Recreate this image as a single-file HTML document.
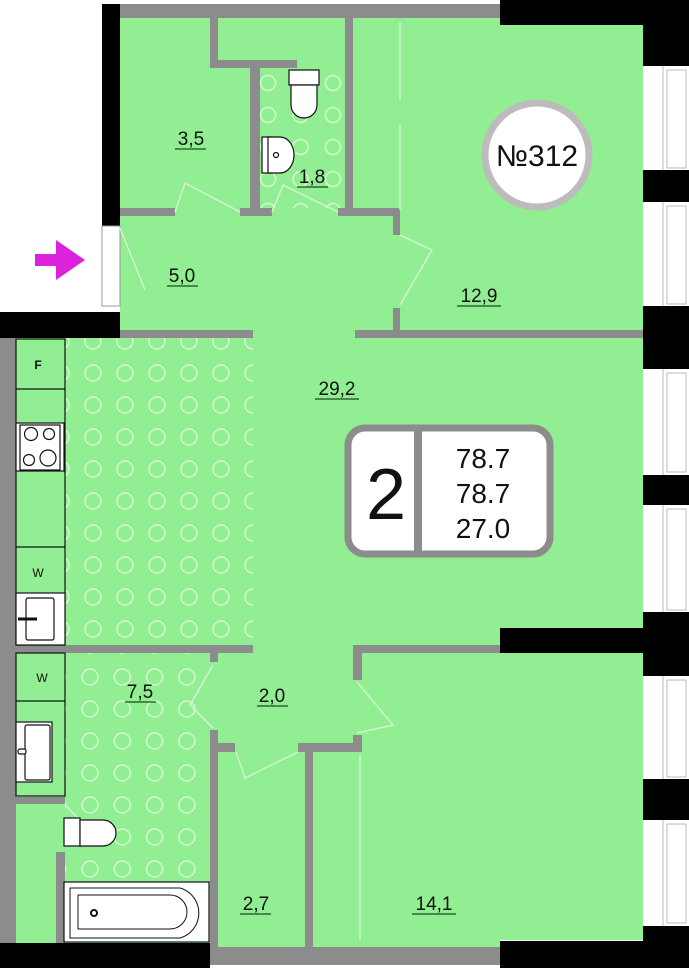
<!DOCTYPE html>
<html><head><meta charset="utf-8"><style>
html,body{margin:0;padding:0;background:#fff}
svg{display:block}
text{font-family:"Liberation Sans",Arial,sans-serif}
</style></head><body>
<svg width="689" height="968" viewBox="0 0 689 968" xmlns="http://www.w3.org/2000/svg">
<defs>
<pattern id="pk" patternUnits="userSpaceOnUse" x="77" y="357" width="32" height="32"><circle cx="16" cy="16" r="8" fill="none" stroke="#d6f7d0" stroke-width="1.5"/></pattern>
<pattern id="pb" patternUnits="userSpaceOnUse" x="74" y="661" width="32.3" height="32"><circle cx="16" cy="16" r="8" fill="none" stroke="#d6f7d0" stroke-width="1.5"/></pattern>
<pattern id="pw" patternUnits="userSpaceOnUse" x="252" y="67" width="32.5" height="32"><circle cx="16" cy="16" r="7.5" fill="none" stroke="#d6f7d0" stroke-width="1.5"/></pattern>
</defs>
<!-- green floor -->
<path d="M120 18 H643 V940 H500 V947 H210 V943 H16 V338 H120 Z" fill="#92ee92"/>
<!-- tile patterns -->
<rect x="65" y="338" width="188" height="307" fill="url(#pk)"/>
<rect x="65" y="653" width="145" height="230" fill="url(#pb)"/>
<rect x="260" y="68" width="85" height="140" fill="url(#pw)"/>
<!-- outer walls -->
<rect x="102" y="4" width="398" height="14" fill="#8c8c8c"/>
<rect x="500" y="0" width="189" height="25" fill="#000"/>
<rect x="102" y="4" width="18" height="222" fill="#000"/>
<rect x="0" y="312" width="120" height="26" fill="#000"/>
<rect x="102" y="226" width="18" height="80" fill="#fff" stroke="#999" stroke-width="1"/>
<rect x="0" y="338" width="16" height="605" fill="#8c8c8c"/>
<rect x="0" y="943" width="210" height="25" fill="#000"/>
<rect x="210" y="947" width="290" height="18" fill="#8c8c8c"/>
<rect x="500" y="941" width="189" height="27" fill="#000"/>
<rect x="500" y="628" width="189" height="25" fill="#000"/>
<!-- right wall piers and windows -->
<rect x="643" y="0" width="46" height="968" fill="#fff"/>
<g fill="#000">
<rect x="643" y="0" width="46" height="66"/>
<rect x="643" y="170" width="46" height="32"/>
<rect x="643" y="306" width="46" height="63"/>
<rect x="643" y="475" width="46" height="30"/>
<rect x="643" y="612" width="46" height="64"/>
<rect x="643" y="779" width="46" height="41"/>
<rect x="643" y="926" width="46" height="42"/>
</g>
<g fill="none" stroke="#bbb" stroke-width="1">
<path d="M663 66V170M667 70V168H686V70Z"/>
<path d="M663 202V306M667 206V304H686V206Z"/>
<path d="M663 369V475M667 373V472H686V373Z"/>
<path d="M663 505V612M667 509V610H686V509Z"/>
<path d="M663 676V779M667 680V777H686V680Z"/>
<path d="M663 820V926M667 824V923H686V824Z"/>
</g>
<!-- inner walls -->
<g fill="#8c8c8c">
<rect x="210" y="18" width="8" height="50"/>
<rect x="210" y="60" width="87" height="8"/>
<rect x="250" y="60" width="10" height="156"/>
<rect x="345" y="18" width="8" height="198"/>
<rect x="120" y="208" width="55" height="8"/>
<rect x="240" y="208" width="32" height="8"/>
<rect x="338" y="208" width="62" height="8"/>
<rect x="393" y="208" width="7" height="27"/>
<rect x="393" y="308" width="7" height="30"/>
<rect x="120" y="330" width="133" height="8"/>
<rect x="355" y="330" width="288" height="8"/>
<rect x="16" y="645" width="237" height="8"/>
<rect x="353" y="645" width="147" height="8"/>
<rect x="210" y="653" width="8" height="9"/>
<rect x="353" y="653" width="9" height="27"/>
<rect x="210" y="730" width="8" height="217"/>
<rect x="218" y="743" width="17" height="9"/>
<rect x="298" y="743" width="64" height="9"/>
<rect x="353" y="735" width="9" height="17"/>
<rect x="305" y="745" width="8" height="202"/>
<rect x="16" y="797" width="49" height="7"/>
<rect x="56" y="852" width="9" height="91"/>
</g>
<!-- door swings -->
<g fill="none" stroke="#d8f5d8" stroke-width="1.3">
<path d="M120 228 L145 290"/>
<path d="M175 212 L185 183 L240 212"/>
<path d="M272 212 L283 185 L338 212"/>
<path d="M400 235 L432 250 L400 305"/>
<path d="M400 22 V100 M400 125 V210"/>
<path d="M213 665 L190 705 L213 728"/>
<path d="M236 752 L245 778 L298 752"/>
<path d="M357 682 L393 725 L357 733"/>
<path d="M360 755 V940"/>
<path d="M65 805 L90 830"/>
</g>
<!-- kitchen cabinets -->
<g stroke="#111" stroke-width="1.2">
<rect x="16" y="339" width="49" height="306" fill="#92ee92"/>
<line x1="16" y1="389" x2="65" y2="389"/>
<line x1="16" y1="547" x2="65" y2="547"/>
<rect x="16" y="423" width="48" height="48" fill="#fff"/>
<rect x="20" y="425" width="40" height="45" fill="#fff"/>
<circle cx="31" cy="434" r="6.5" fill="none"/><circle cx="49" cy="434" r="5.5" fill="none"/>
<circle cx="29" cy="460" r="5.5" fill="none"/><circle cx="48" cy="458" r="8" fill="none"/>
<rect x="16" y="593" width="49" height="52" fill="#fff"/>
<rect x="26" y="598" width="28" height="42" rx="2" fill="#fff"/>
<line x1="18" y1="619" x2="37" y2="619" stroke-width="3"/>
<rect x="16" y="653" width="49" height="143" fill="#92ee92"/>
<line x1="16" y1="701" x2="65" y2="701"/>
<rect x="16" y="722" width="36" height="60" fill="#fff"/>
<rect x="25" y="725" width="25" height="55" rx="2" fill="#fff"/>
<rect x="18" y="749" width="8" height="5" rx="2" fill="#fff"/>
<!-- toilets, bath, sink -->
<rect x="64" y="818" width="16" height="28" fill="#fff"/>
<path d="M80 820 H103 A13 13 0 0 1 103 846 H80 Z" fill="#fff"/>
<rect x="64" y="882" width="145" height="60" fill="#fff"/>
<path d="M70 888 H180 A26 26 0 0 1 180 938 H70 Z" fill="#fff" stroke-width="1"/>
<path d="M78 895 H170 A17 17 0 0 1 170 929 H78 Z" fill="#fff" stroke-width="1"/>
<circle cx="94" cy="913" r="3" fill="#fff" stroke-width="2"/>
<rect x="289" y="70" width="30" height="15" fill="#fff"/>
<path d="M291 85 H317 V105 A13 13 0 0 1 291 105 Z" fill="#fff"/>
<rect x="262" y="137" width="10" height="36" fill="#fff"/>
<path d="M268 137 H280 A14 18 0 0 1 280 173 H268 Z" fill="#fff"/>
<circle cx="276" cy="155" r="2.5" fill="#fff"/>
</g>
<text x="38" y="369" font-size="12" font-weight="bold" text-anchor="middle" fill="#111">F</text>
<text x="38" y="577" font-size="12" text-anchor="middle" fill="#111">W</text>
<text x="42" y="682" font-size="12" text-anchor="middle" fill="#111">W</text>
<!-- entrance arrow -->
<path d="M35 254 H56 V240 L85 260 L56 280 V266 H35 Z" fill="#dd22dd"/>
<!-- apartment number -->
<circle cx="537" cy="155" r="52" fill="#fff" stroke="#bcbcbc" stroke-width="7"/>
<text x="537" y="166" font-size="30" text-anchor="middle" fill="#111">№312</text>
<!-- info box -->
<rect x="348" y="428" width="202" height="126" rx="17" fill="#fff" stroke="#8c8c8c" stroke-width="7"/>
<rect x="414" y="428" width="8" height="126" fill="#8c8c8c"/>
<text x="386" y="519" font-size="72" text-anchor="middle" fill="#111">2</text>
<text x="483" y="468" font-size="28" text-anchor="middle" fill="#111">78.7</text>
<text x="483" y="503" font-size="28" text-anchor="middle" fill="#111">78.7</text>
<text x="483" y="538" font-size="28" text-anchor="middle" fill="#111">27.0</text>
<!-- room labels -->
<g font-size="19" fill="#111" text-anchor="middle">
<text x="191" y="145">3,5</text>
<text x="312" y="183">1,8</text>
<text x="182" y="282">5,0</text>
<text x="479" y="302">12,9</text>
<text x="337" y="395">29,2</text>
<text x="140" y="698">7,5</text>
<text x="272" y="702">2,0</text>
<text x="256" y="910">2,7</text>
<text x="434" y="910">14,1</text>
</g>
<g stroke="#1a4d1a" stroke-width="1.3">
<line x1="175" y1="149" x2="206" y2="149"/>
<line x1="297" y1="187" x2="328" y2="187"/>
<line x1="167" y1="286" x2="198" y2="286"/>
<line x1="457" y1="306" x2="501" y2="306"/>
<line x1="315" y1="399" x2="359" y2="399"/>
<line x1="125" y1="702" x2="156" y2="702"/>
<line x1="257" y1="706" x2="288" y2="706"/>
<line x1="240" y1="914" x2="271" y2="914"/>
<line x1="412" y1="914" x2="456" y2="914"/>
</g>
</svg>
</body></html>
